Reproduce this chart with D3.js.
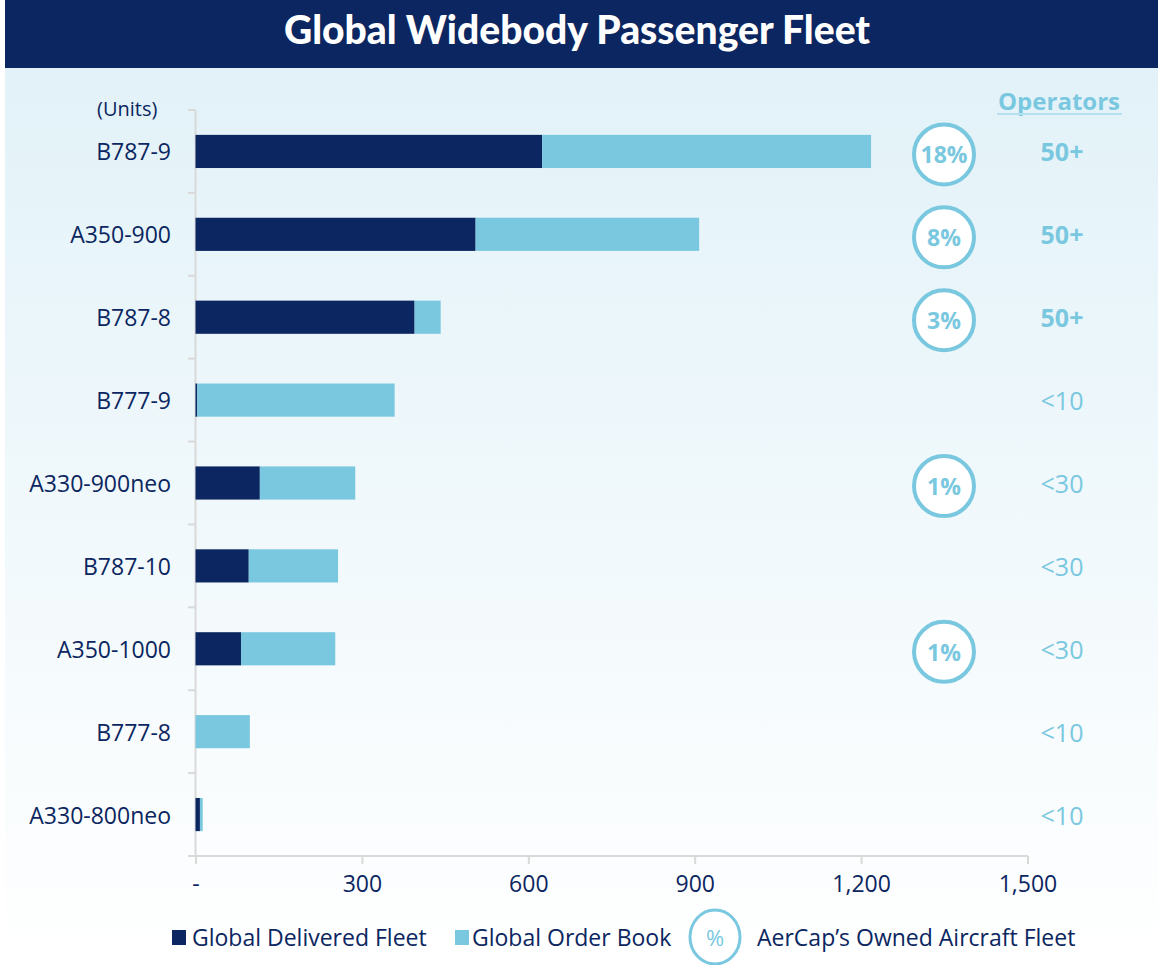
<!DOCTYPE html>
<html><head><meta charset="utf-8">
<script src="https://cdn.jsdelivr.net/npm/d3@7"></script>
<style>body{margin:0;background:#fff}svg{display:block}text{font-family:"Open Sans",Lato,sans-serif}</style>
</head><body><svg id="c" width="1158" height="965"></svg>
<script>
const categories = ["B787-9","A350-900","B787-8","B777-9","A330-900neo","B787-10","A350-1000","B777-8","A330-800neo"];
const delivered  = [625, 505, 395, 3, 116, 96, 82, 0, 8];
const orderBook  = [593, 403, 47, 356, 172, 161, 170, 98, 5];
const aercapShare = ["18%","8%","3%",null,"1%",null,"1%",null,null];
const operators  = ["50+","50+","50+","<10","<30","<30","<30","<10","<10"];
const xTicks = [0, 300, 600, 900, 1200, 1500];
const seriesNames = ["Global Delivered Fleet","Global Order Book"];

const NAVY = "#0b2660", LIGHT = "#7ac8e0";
const svg = d3.select("#c");
const defs = svg.append("defs");
const g1 = defs.append("linearGradient").attr("id","bg").attr("x1",0).attr("y1",0).attr("x2",0).attr("y2",1);
g1.append("stop").attr("offset","0%").attr("stop-color","#e2f2f8");
g1.append("stop").attr("offset","100%").attr("stop-color","#ffffff");
svg.append("rect").attr("x",5).attr("y",68).attr("width",1153).attr("height",897).attr("fill","url(#bg)");
svg.append("rect").attr("x",5).attr("y",0).attr("width",1153).attr("height",68).attr("fill",NAVY);
svg.append("text").attr("x",577).attr("y",44).attr("text-anchor","middle").attr("fill","#fff")
  .style("font-family","Lato").attr("font-size",39).attr("font-weight",900).text("Global Widebody Passenger Fleet");

const x = d3.scaleLinear().domain([0,1500]).range([195.5,1027.5]);
const y = d3.scaleBand().domain(categories).range([110,856]).paddingInner(0.6).paddingOuter(0.3);

const data = categories.map((c,i)=>({cat:c, delivered:delivered[i], order:orderBook[i]}));
const stack = d3.stack().keys(["delivered","order"])(data);
const colors = [NAVY, LIGHT];

// axes
const xAxis = d3.axisBottom(x).tickValues(xTicks).tickSize(8).tickPadding(12)
  .tickFormat(d=> d===0 ? "-" : d3.format(",")(d));
const gx = svg.append("g").attr("transform","translate(0,856)").call(xAxis);
gx.select(".domain").attr("stroke","#d9d9d9").attr("stroke-width",2).attr("d","M188,0H1028");
gx.selectAll(".tick line").attr("stroke","#d9d9d9").attr("stroke-width",2);
gx.selectAll(".tick text").attr("fill",NAVY).attr("font-size",23).style("font-family","Open Sans");

// y axis line + band boundary ticks
svg.append("line").attr("x1",195.5).attr("x2",195.5).attr("y1",110).attr("y2",856).attr("stroke","#d9d9d9").attr("stroke-width",2);
const step = y.step();
const bounds = d3.range(0, categories.length+1).map(i=>110+i*step);
svg.selectAll(".ytick").data(bounds).join("line").attr("x1",188).attr("x2",195.5)
  .attr("y1",d=>d).attr("y2",d=>d).attr("stroke","#d9d9d9").attr("stroke-width",2);

svg.selectAll(".cat").data(categories).join("text").attr("x",171).attr("y",d=>y(d)+y.bandwidth()/2)
  .attr("text-anchor","end").attr("dominant-baseline","central").attr("fill",NAVY).attr("font-size",23).text(d=>d);
svg.append("text").attr("x",97).attr("y",108).attr("dominant-baseline","central").attr("fill",NAVY).attr("font-size",20).text("(Units)");

// bars
svg.append("g").selectAll("g").data(stack).join("g").attr("fill",(d,i)=>colors[i])
  .selectAll("rect").data(d=>d).join("rect")
  .attr("x",d=>x(d[0])).attr("width",d=>x(d[1])-x(d[0]))
  .attr("y",d=>y(d.data.cat)).attr("height",y.bandwidth());

// AerCap circles
const cx = 944;
const circ = svg.append("g").selectAll("g").data(categories.map((c,i)=>({c,v:aercapShare[i]})).filter(d=>d.v))
  .join("g").attr("transform",d=>`translate(${cx},${y(d.c)+y.bandwidth()/2+3})`);
circ.append("circle").attr("r",30).attr("fill","#fff").attr("stroke",LIGHT).attr("stroke-width",4);
circ.append("text").attr("text-anchor","middle").attr("dominant-baseline","central").attr("fill",LIGHT)
  .attr("font-size",23).attr("font-weight",700).text(d=>d.v);

// Operators
svg.append("text").attr("x",1059).attr("y",100).attr("text-anchor","middle").attr("dominant-baseline","central")
  .attr("fill",LIGHT).attr("font-size",24).attr("font-weight",700).text("Operators");
svg.append("line").attr("x1",997).attr("x2",1122).attr("y1",114).attr("y2",114).attr("stroke","#b5e0ee").attr("stroke-width",2);
svg.selectAll(".op").data(categories).join("text").attr("x",1062).attr("y",(d,i)=>y(d)+y.bandwidth()/2)
  .attr("text-anchor","middle").attr("dominant-baseline","central").attr("fill",LIGHT).attr("font-size",25)
  .attr("font-weight",(d,i)=>operators[i].endsWith("+")?700:400).text((d,i)=>operators[i]);

// legend
const lg = svg.append("g");
lg.append("rect").attr("x",172).attr("y",930).attr("width",14).attr("height",15).attr("fill",NAVY);
lg.append("text").attr("x",192).attr("y",937).attr("dominant-baseline","central").attr("fill",NAVY).attr("font-size",23).text(seriesNames[0]);
lg.append("rect").attr("x",455).attr("y",930).attr("width",14).attr("height",15).attr("fill",LIGHT);
lg.append("text").attr("x",472).attr("y",937).attr("dominant-baseline","central").attr("fill",NAVY).attr("font-size",23).text(seriesNames[1]);
lg.append("ellipse").attr("cx",715).attr("cy",937).attr("rx",25).attr("ry",27).attr("fill","#fff").attr("stroke",LIGHT).attr("stroke-width",3);
lg.append("text").attr("x",715).attr("y",937).attr("text-anchor","middle").attr("dominant-baseline","central").attr("fill",LIGHT).attr("font-size",22).text("%");
lg.append("text").attr("x",757).attr("y",937).attr("dominant-baseline","central").attr("fill",NAVY).attr("font-size",23).text("AerCap’s Owned Aircraft Fleet");
</script></body></html>
